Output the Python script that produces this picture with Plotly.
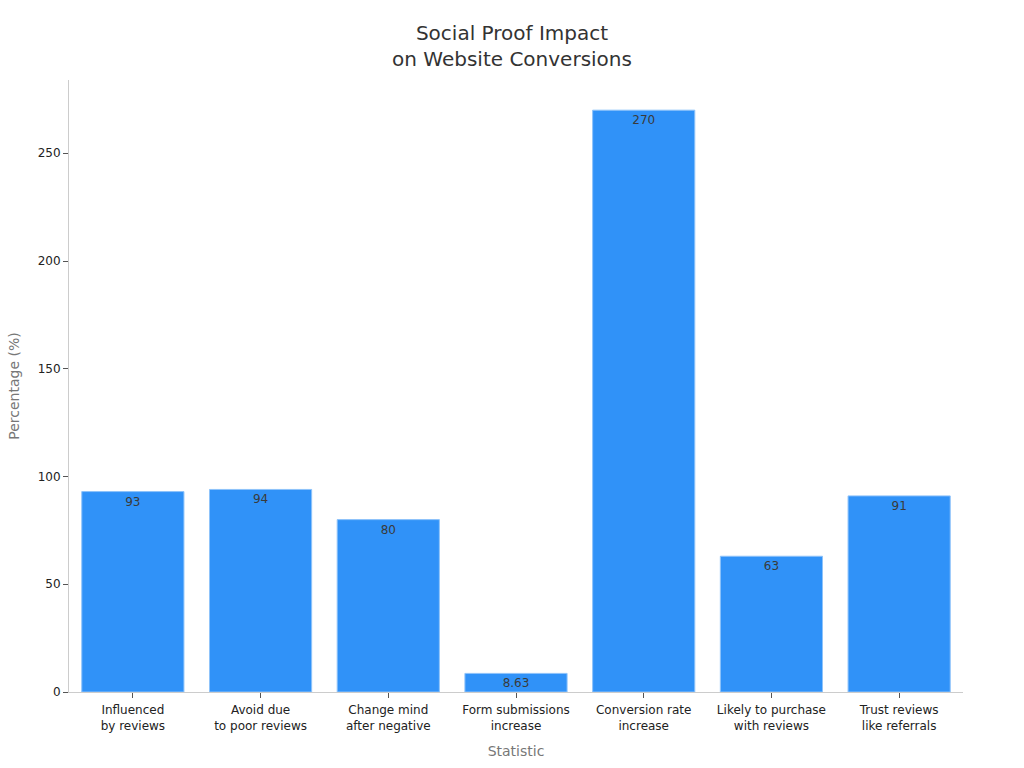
import plotly.graph_objects as go

categories = ["Influenced<br>by reviews", "Avoid due<br>to poor reviews", "Change mind<br>after negative",
              "Form submissions<br>increase", "Conversion rate<br>increase", "Likely to purchase<br>with reviews",
              "Trust reviews<br>like referrals"]
values = [93, 94, 80, 8.63, 270, 63, 91]
labels = ["93", "94", "80", "8.63", "270", "63", "91"]

fig = go.Figure(go.Bar(
    x=categories, y=values, text=labels,
    textposition="inside", insidetextanchor="end",
    textfont=dict(family="DejaVu Sans", size=12, color="#3a3a3a"),
    marker=dict(color="#3092F8", line=dict(color="#8EC3FA", width=1)),
    constraintext="none",
))

fig.update_layout(
    width=1024, height=768,
    margin=dict(l=69, r=61, t=80, b=76),
    paper_bgcolor="white", plot_bgcolor="white",
    font=dict(family="DejaVu Sans", size=12, color="#222222"),
    title=dict(text="Social Proof Impact<br>on Website Conversions", x=0.5, xanchor="center",
               y=0.9485, yanchor="top", font=dict(size=20, color="#333333")),
    bargap=0.2,
    showlegend=False,
    uniformtext=dict(mode=False),
)
fig.update_xaxes(
    title=dict(text="Statistic", font=dict(size=14, color="#777777"), standoff=14),
    showline=True, linecolor="#cccccc", linewidth=1,
    ticks="outside", tickcolor="#555555", ticklen=5,
    ticklabelstandoff=2,
    tickfont=dict(size=12, color="#222222"),
    showgrid=False,
)
fig.update_yaxes(
    title=dict(text="Percentage (%)", font=dict(size=14, color="#777777"), standoff=14),
    range=[0, 284],
    showline=True, linecolor="#cccccc", linewidth=1,
    ticks="outside", tickcolor="#555555", ticklen=5,
    tickfont=dict(size=12, color="#222222"),
    tickvals=[0, 50, 100, 150, 200, 250],
    showgrid=False, zeroline=False,
)

fig.write_html("out.html")
